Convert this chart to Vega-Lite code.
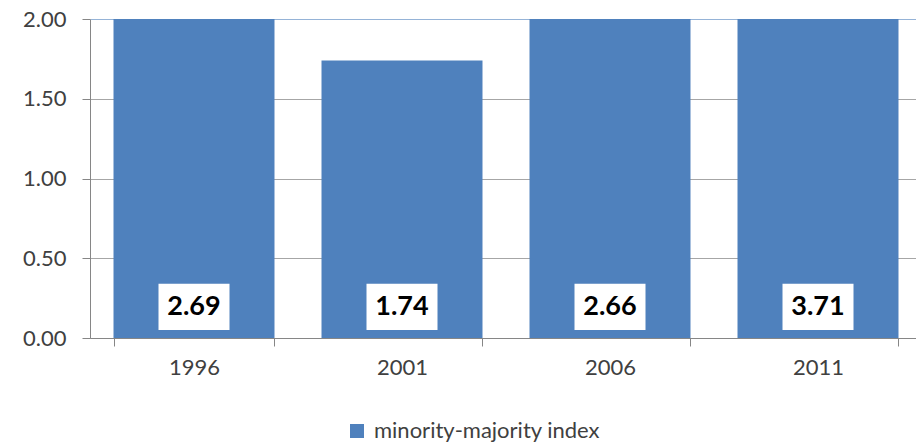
{
  "$schema": "https://vega.github.io/schema/vega-lite/v6.json",
  "autosize": "none",
  "width": 826,
  "height": 319,
  "padding": {"left": 90, "top": 19, "right": 0, "bottom": 106},
  "background": "white",
  "config": {
    "font": "Lato",
    "view": {"stroke": null},
    "axis": {"labelFont": "Lato", "labelColor": "#404040", "labelFontSize": 22, "domainColor": "#868686", "tickColor": "#868686", "title": null}
  },
  "data": {
    "values": [
      {"year": "1996", "value": 2.69, "series": "minority-majority index"},
      {"year": "2001", "value": 1.74, "series": "minority-majority index"},
      {"year": "2006", "value": 2.66, "series": "minority-majority index"},
      {"year": "2011", "value": 3.71, "series": "minority-majority index"}
    ]
  },
  "encoding": {
    "x": {
      "field": "year",
      "type": "nominal",
      "sort": null,
      "scale": {"range": [0, 832], "paddingInner": 0.226, "paddingOuter": 0.113},
      "axis": {"labelAngle": 0, "tickBand": "extent", "tickSize": 8, "labelPadding": 11, "title": null}
    }
  },
  "layer": [
    {
      "mark": {"type": "bar"},
      "encoding": {
        "y": {
          "field": "value",
          "type": "quantitative",
          "scale": {"domain": [0, 2], "clamp": true, "nice": false},
          "axis": {
            "values": [0, 0.5, 1, 1.5, 2],
            "format": ".2f",
            "tickSize": 8,
            "labelPadding": 16,
            "gridColor": {"condition": {"test": "datum.value === 2", "value": "#95b3d7"}, "value": "#a6a6a6"},
            "grid": true,
            "title": null
          }
        },
        "color": {
          "field": "series",
          "type": "nominal",
          "scale": {"range": ["#4f81bd"]},
          "legend": {
            "orient": "none",
            "legendX": 256,
            "legendY": 401,
            "title": null,
            "symbolType": "square",
            "symbolSize": 196,
            "symbolStrokeWidth": 0,
            "labelFont": "Lato",
            "labelFontSize": 22,
            "labelColor": "#404040",
            "labelOffset": 6,
            "labelLimit": 0,
            "padding": 0
          }
        }
      }
    },
    {
      "mark": {"type": "bar", "width": 71, "color": "white"},
      "encoding": {
        "y": {"datum": 0.05, "type": "quantitative"},
        "y2": {"datum": 0.34}
      }
    },
    {
      "mark": {"type": "text", "font": "Lato", "fontWeight": "bold", "fontSize": 27, "color": "black", "baseline": "middle", "align": "center"},
      "encoding": {
        "y": {"datum": 0.195, "type": "quantitative"},
        "text": {"field": "value", "type": "quantitative", "format": ".2f"}
      }
    }
  ]
}
